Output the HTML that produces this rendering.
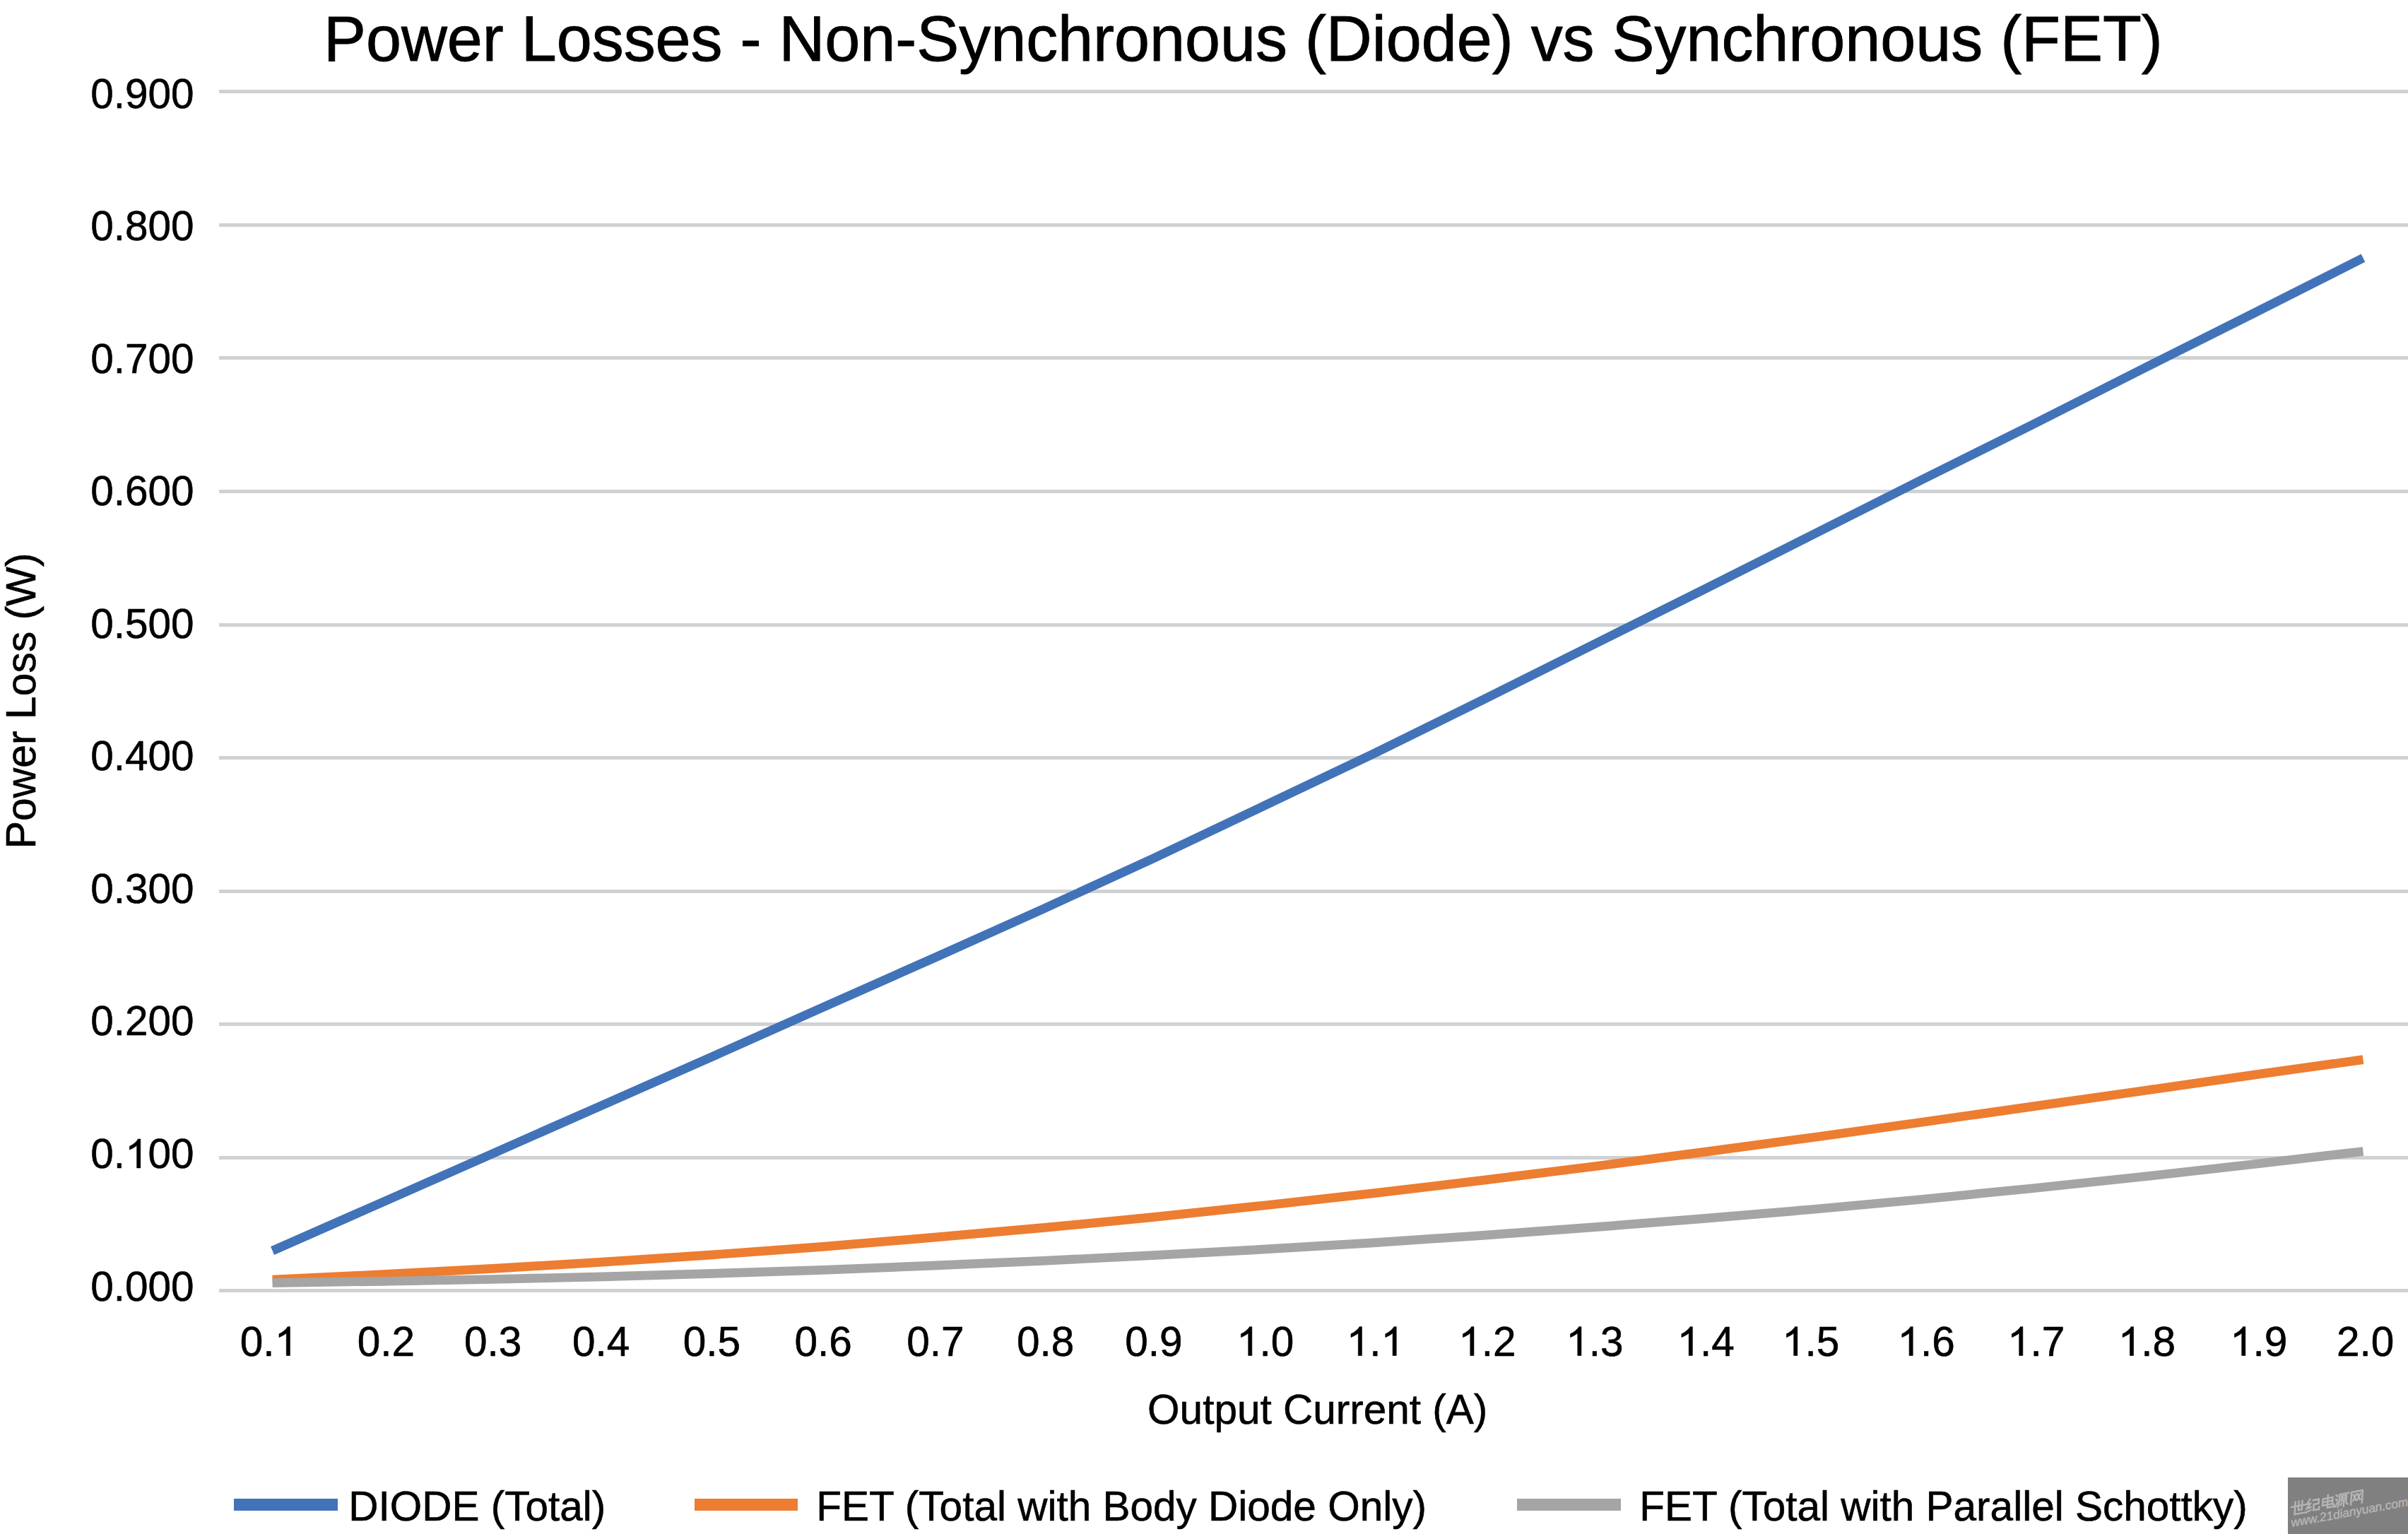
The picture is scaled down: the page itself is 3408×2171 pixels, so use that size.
<!DOCTYPE html>
<html><head><meta charset="utf-8"><title>Power Losses</title>
<style>
html,body{margin:0;padding:0;background:#fff;width:3408px;height:2171px;overflow:hidden}
svg{display:block}
text{font-family:'Liberation Sans', sans-serif;fill:#000;stroke:#000;stroke-width:0.6px}
</style></head><body>
<svg width="3408" height="2171" viewBox="0 0 3408 2171">
<rect x="0" y="0" width="3408" height="2171" fill="#fff"/>

<g fill="#D0D1D4">
<rect x="310" y="1824" width="3098" height="5"/>
<rect x="310" y="1636" width="3098" height="5"/>
<rect x="310" y="1447" width="3098" height="5"/>
<rect x="310" y="1259" width="3098" height="5"/>
<rect x="310" y="1070" width="3098" height="5"/>
<rect x="310" y="882" width="3098" height="5"/>
<rect x="310" y="693" width="3098" height="5"/>
<rect x="310" y="504" width="3098" height="5"/>
<rect x="310" y="316" width="3098" height="5"/>
<rect x="310" y="127" width="3098" height="5"/>
</g>
<polyline points="385.6,1770.1 541.3,1701.5 697.1,1632.7 852.8,1564.0 1008.5,1495.2 1164.3,1425.8 1320.0,1356.6 1475.7,1286.7 1631.5,1215.2 1787.2,1141.3 1942.9,1067.2 2098.6,990.5 2254.4,912.6 2410.1,835.0 2565.8,756.7 2721.6,678.1 2877.3,600.6 3033.0,521.8 3188.8,443.7 3344.5,365.1" fill="none" stroke="#4273B9" stroke-width="12.7" stroke-linejoin="round" stroke-linecap="butt"/>
<polyline points="385.6,1811.2 541.3,1803.7 697.1,1795.4 852.8,1786.1 1008.5,1775.8 1164.3,1764.3 1320.0,1751.4 1475.7,1737.7 1631.5,1722.6 1787.2,1706.2 1942.9,1688.9 2098.6,1670.4 2254.4,1651.0 2410.1,1630.6 2565.8,1609.7 2721.6,1588.0 2877.3,1565.9 3033.0,1543.7 3188.8,1521.4 3344.5,1499.6" fill="none" stroke="#ED7D31" stroke-width="12.7" stroke-linejoin="round" stroke-linecap="butt"/>
<polyline points="385.6,1815.6 541.3,1813.3 697.1,1810.5 852.8,1806.9 1008.5,1802.4 1164.3,1797.3 1320.0,1791.2 1475.7,1784.4 1631.5,1776.7 1787.2,1768.2 1942.9,1758.8 2098.6,1748.4 2254.4,1736.9 2410.1,1724.7 2565.8,1711.5 2721.6,1697.2 2877.3,1681.7 3033.0,1665.3 3188.8,1647.8 3344.5,1629.5" fill="none" stroke="#A5A5A5" stroke-width="12.7" stroke-linejoin="round" stroke-linecap="butt"/>
<g font-size="58.5" fill="#000" stroke="#000" stroke-width="0.6">
<text x="274.6" y="1840.5" text-anchor="end">0.000</text>
<text x="274.6" y="1653.0" text-anchor="end">0.<tspan style="fill:none;stroke:none">1</tspan>00</text><path transform="translate(177.00,1652.95) scale(0.028564,-0.027765)" d="M763,0L583,0L583,1147Q518,1085 412,1023Q306,961 222,930L222,1104Q373,1175 486,1276Q599,1377 646,1472L763,1472Z" vector-effect="non-scaling-stroke"/>
<text x="274.6" y="1465.4" text-anchor="end">0.200</text>
<text x="274.6" y="1277.8" text-anchor="end">0.300</text>
<text x="274.6" y="1090.3" text-anchor="end">0.400</text>
<text x="274.6" y="902.8" text-anchor="end">0.500</text>
<text x="274.6" y="715.2" text-anchor="end">0.600</text>
<text x="274.6" y="527.6" text-anchor="end">0.700</text>
<text x="274.6" y="340.1" text-anchor="end">0.800</text>
<text x="274.6" y="152.6" text-anchor="end">0.900</text>
<text x="380.5" y="1918.5" text-anchor="middle">0.<tspan style="fill:none;stroke:none">1</tspan></text><path transform="translate(388.63,1918.50) scale(0.028564,-0.027765)" d="M763,0L583,0L583,1147Q518,1085 412,1023Q306,961 222,930L222,1104Q373,1175 486,1276Q599,1377 646,1472L763,1472Z" vector-effect="non-scaling-stroke"/>
<text x="546.5" y="1918.5" text-anchor="middle">0.2</text>
<text x="697.7" y="1918.5" text-anchor="middle">0.3</text>
<text x="850.7" y="1918.5" text-anchor="middle">0.4</text>
<text x="1007.3" y="1918.5" text-anchor="middle">0.5</text>
<text x="1165.2" y="1918.5" text-anchor="middle">0.6</text>
<text x="1323.9" y="1918.5" text-anchor="middle">0.7</text>
<text x="1479.6" y="1918.5" text-anchor="middle">0.8</text>
<text x="1632.9" y="1918.5" text-anchor="middle">0.9</text>
<text x="1790.7" y="1918.5" text-anchor="middle"><tspan style="fill:none;stroke:none">1</tspan>.0</text><path transform="translate(1750.04,1918.50) scale(0.028564,-0.027765)" d="M763,0L583,0L583,1147Q518,1085 412,1023Q306,961 222,930L222,1104Q373,1175 486,1276Q599,1377 646,1472L763,1472Z" vector-effect="non-scaling-stroke"/>
<text x="1946.3" y="1918.5" text-anchor="middle"><tspan style="fill:none;stroke:none">1</tspan>.<tspan style="fill:none;stroke:none">1</tspan></text><path transform="translate(1905.64,1918.50) scale(0.028564,-0.027765)" d="M763,0L583,0L583,1147Q518,1085 412,1023Q306,961 222,930L222,1104Q373,1175 486,1276Q599,1377 646,1472L763,1472Z" vector-effect="non-scaling-stroke"/><path transform="translate(1954.43,1918.50) scale(0.028564,-0.027765)" d="M763,0L583,0L583,1147Q518,1085 412,1023Q306,961 222,930L222,1104Q373,1175 486,1276Q599,1377 646,1472L763,1472Z" vector-effect="non-scaling-stroke"/>
<text x="2104.8" y="1918.5" text-anchor="middle"><tspan style="fill:none;stroke:none">1</tspan>.2</text><path transform="translate(2064.14,1918.50) scale(0.028564,-0.027765)" d="M763,0L583,0L583,1147Q518,1085 412,1023Q306,961 222,930L222,1104Q373,1175 486,1276Q599,1377 646,1472L763,1472Z" vector-effect="non-scaling-stroke"/>
<text x="2256.8" y="1918.5" text-anchor="middle"><tspan style="fill:none;stroke:none">1</tspan>.3</text><path transform="translate(2216.14,1918.50) scale(0.028564,-0.027765)" d="M763,0L583,0L583,1147Q518,1085 412,1023Q306,961 222,930L222,1104Q373,1175 486,1276Q599,1377 646,1472L763,1472Z" vector-effect="non-scaling-stroke"/>
<text x="2414.2" y="1918.5" text-anchor="middle"><tspan style="fill:none;stroke:none">1</tspan>.4</text><path transform="translate(2373.54,1918.50) scale(0.028564,-0.027765)" d="M763,0L583,0L583,1147Q518,1085 412,1023Q306,961 222,930L222,1104Q373,1175 486,1276Q599,1377 646,1472L763,1472Z" vector-effect="non-scaling-stroke"/>
<text x="2562.7" y="1918.5" text-anchor="middle"><tspan style="fill:none;stroke:none">1</tspan>.5</text><path transform="translate(2522.04,1918.50) scale(0.028564,-0.027765)" d="M763,0L583,0L583,1147Q518,1085 412,1023Q306,961 222,930L222,1104Q373,1175 486,1276Q599,1377 646,1472L763,1472Z" vector-effect="non-scaling-stroke"/>
<text x="2726.1" y="1918.5" text-anchor="middle"><tspan style="fill:none;stroke:none">1</tspan>.6</text><path transform="translate(2685.44,1918.50) scale(0.028564,-0.027765)" d="M763,0L583,0L583,1147Q518,1085 412,1023Q306,961 222,930L222,1104Q373,1175 486,1276Q599,1377 646,1472L763,1472Z" vector-effect="non-scaling-stroke"/>
<text x="2881.7" y="1918.5" text-anchor="middle"><tspan style="fill:none;stroke:none">1</tspan>.7</text><path transform="translate(2841.04,1918.50) scale(0.028564,-0.027765)" d="M763,0L583,0L583,1147Q518,1085 412,1023Q306,961 222,930L222,1104Q373,1175 486,1276Q599,1377 646,1472L763,1472Z" vector-effect="non-scaling-stroke"/>
<text x="3038.4" y="1918.5" text-anchor="middle"><tspan style="fill:none;stroke:none">1</tspan>.8</text><path transform="translate(2997.74,1918.50) scale(0.028564,-0.027765)" d="M763,0L583,0L583,1147Q518,1085 412,1023Q306,961 222,930L222,1104Q373,1175 486,1276Q599,1377 646,1472L763,1472Z" vector-effect="non-scaling-stroke"/>
<text x="3196.7" y="1918.5" text-anchor="middle"><tspan style="fill:none;stroke:none">1</tspan>.9</text><path transform="translate(3156.04,1918.50) scale(0.028564,-0.027765)" d="M763,0L583,0L583,1147Q518,1085 412,1023Q306,961 222,930L222,1104Q373,1175 486,1276Q599,1377 646,1472L763,1472Z" vector-effect="non-scaling-stroke"/>
<text x="3347.7" y="1918.5" text-anchor="middle">2.0</text>
</g>
<text x="1759.4" y="86.3" font-size="89.9" style="stroke-width:0.9px" text-anchor="middle">Power Losses - Non-Synchronous (Diode) vs Synchronous (FET)</text>
<text x="1864.7" y="2015.4" font-size="58.5" text-anchor="middle">Output Current (A)</text>
<text transform="translate(50,991.9) rotate(-90)" x="0" y="0" font-size="58.9" text-anchor="middle">Power Loss (W)</text>
<rect x="331" y="2121" width="147" height="17" fill="#4273B9"/>
<text x="493.2" y="2151.5" font-size="58.5">DIODE (Total)</text>
<rect x="983" y="2121" width="146" height="17" fill="#ED7D31"/>
<text x="1155.2" y="2151.5" font-size="58.5">FET (Total with Body Diode Only)</text>
<rect x="2147" y="2121" width="147" height="17" fill="#A5A5A5"/>
<text x="2320.3" y="2151.5" font-size="58.5">FET (Total with Parallel Schottky)</text>
<rect x="3238" y="2091" width="170" height="80" fill="#808080"/>
<g transform="translate(3243.5,2161) rotate(-10.3)"><text x="0" y="0" font-size="17.3" font-style="italic" style="fill:#B4B4B4;stroke:#B4B4B4;stroke-width:0.5px">www.21dianyuan.com</text></g>
<g transform="translate(3241.5,2147) rotate(-10.6) skewX(-14)" fill="none" stroke="#B4B4B4" stroke-width="2.5" stroke-linecap="square">
<path transform="translate(1,-20.5) scale(1.0)" d="M0,7H20 M5,1V18H20 M10,1V13 M15,1V13H10"/>
<path transform="translate(22,-20.5) scale(1.0)" d="M5,1L1,7H6L1,13L7,12 M1,18L7,16 M10,3H18V9H11V17H19V14"/>
<path transform="translate(43,-20.5) scale(1.0)" d="M3,4H17V13H3Z M3,8.5H17 M10,0V17H19V14"/>
<path transform="translate(64,-20.5) scale(1.0)" d="M1,2L3,4 M1,8L3,10 M0,18L3,13 M6,2H19 M6,2V12L4,19 M9,5H16V11H9Z M9,8H16 M12.5,11V19 M9.5,14L8,17 M15.5,14L18,17"/>
<path transform="translate(85,-20.5) scale(1.0)" d="M2,19V2H18V19 M5,6L9,14 M9,6L5,14 M11,6L15,14 M15,6L11,14"/>
</g>
</svg></body></html>
